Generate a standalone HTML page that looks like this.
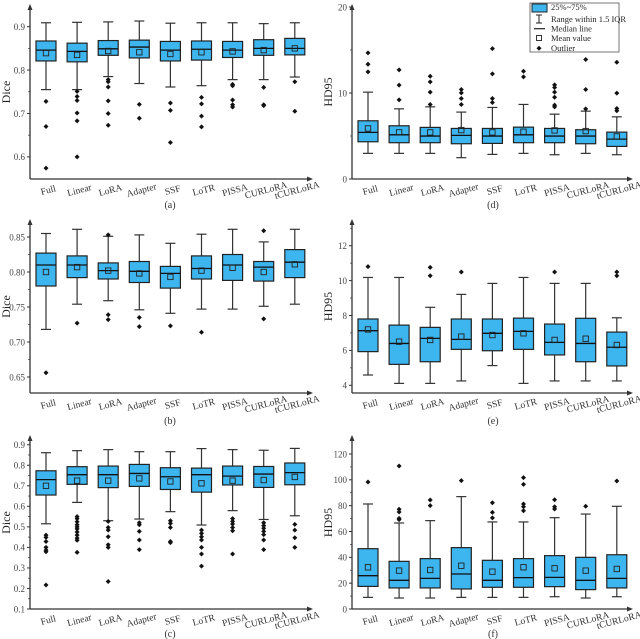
<!DOCTYPE html>
<html><head><meta charset="utf-8"><style>
html,body{margin:0;padding:0;background:#fff;overflow:hidden;}
svg{display:block;font-family:"Liberation Serif",serif;}
</style></head><body>
<svg id="chart" width="640" height="639" viewBox="0 0 640 639" xmlns="http://www.w3.org/2000/svg">
<g id="legend">
<rect x="530" y="3" width="89" height="49" fill="#fff" stroke="#555" stroke-width="0.8"/>
<rect x="532" y="4" width="15" height="8" fill="#3db5ee" stroke="#222" stroke-width="1"/>
<text x="551" y="10" font-size="8.5" fill="#222">25%~75%</text>
<g stroke="#222" stroke-width="1"><line x1="536" y1="15" x2="542" y2="15"/><line x1="539" y1="15" x2="539" y2="23"/><line x1="536" y1="23" x2="542" y2="23"/></g>
<text x="551" y="22" font-size="8.5" fill="#222">Range within 1.5 IQR</text>
<line x1="534" y1="28.7" x2="545" y2="28.7" stroke="#222" stroke-width="1.2"/>
<text x="551" y="31.5" font-size="8.5" fill="#222">Median line</text>
<rect x="536.5" y="35.5" width="5" height="5" fill="none" stroke="#222" stroke-width="0.9"/>
<text x="551" y="41" font-size="8.5" fill="#222">Mean value</text>
<path d="M539,45.8 L541.5,48.3 L539,50.8 L536.5,48.3Z" fill="#111"/>
<text x="551" y="51" font-size="8.5" fill="#222">Outlier</text>
</g>
</svg>
<script>
const categories = ["Full","Linear","LoRA","Adapter","SSF","LoTR","PISSA","CURLoRA","tCURLoRA"];

// (a) Dice
const aHigh = [0.909,0.910,0.911,0.913,0.908,0.909,0.909,0.907,0.909];
const aQ3 = [0.867,0.862,0.868,0.869,0.866,0.867,0.866,0.870,0.873];
const aMed = [0.846,0.843,0.849,0.853,0.846,0.848,0.846,0.850,0.850];
const aQ1 = [0.821,0.819,0.834,0.828,0.821,0.823,0.829,0.834,0.835];
const aLow = [0.755,0.755,0.785,0.769,0.761,0.764,0.778,0.778,0.784];
const aMean = [0.839,0.835,0.844,0.841,0.837,0.841,0.843,0.846,0.850];
const aOut = [[0.728,0.670,0.574],[0.751,0.739,0.730,0.701,0.683,0.600],[0.778,0.773,0.761,0.729,0.700,0.673],[0.721,0.689],[0.724,0.707,0.633],[0.737,0.722,0.694,0.669],[0.767,0.764,0.731,0.720,0.715],[0.760,0.720,0.718],[0.773,0.705]];

// (b) Dice
const bHigh = [0.855,0.861,0.851,0.853,0.841,0.854,0.861,0.843,0.861];
const bQ3 = [0.827,0.823,0.813,0.815,0.808,0.823,0.825,0.815,0.832];
const bMed = [0.810,0.810,0.802,0.801,0.798,0.805,0.810,0.807,0.814];
const bQ1 = [0.780,0.792,0.790,0.785,0.777,0.790,0.788,0.787,0.792];
const bLow = [0.718,0.754,0.759,0.746,0.741,0.747,0.747,0.751,0.754];
const bMean = [0.800,0.807,0.802,0.798,0.793,0.802,0.806,0.800,0.811];
const bOut = [[0.656],[0.727],[0.853,0.739,0.732],[0.735,0.722],[0.723],[0.714],[],[0.859,0.733],[]];

// (c) Dice
const cHigh = [0.861,0.871,0.876,0.866,0.866,0.881,0.876,0.873,0.882];
const cQ3 = [0.773,0.793,0.796,0.804,0.788,0.786,0.796,0.794,0.811];
const cMed = [0.730,0.754,0.754,0.760,0.744,0.754,0.747,0.757,0.764];
const cQ1 = [0.655,0.707,0.691,0.697,0.682,0.669,0.704,0.692,0.705];
const cLow = [0.515,0.619,0.530,0.538,0.574,0.509,0.579,0.536,0.554];
const cMean = [0.700,0.725,0.725,0.736,0.721,0.712,0.725,0.728,0.743];
const cOut = [[0.46,0.449,0.429,0.40,0.387,0.379,0.217],[0.55,0.54,0.525,0.51,0.50,0.49,0.475,0.46,0.445,0.435,0.376],[0.527,0.497,0.484,0.452,0.413,0.40,0.234],[0.52,0.51,0.478,0.436,0.389],[0.53,0.517,0.497,0.429,0.423],[0.484,0.468,0.452,0.436,0.40,0.368,0.309],[0.54,0.527,0.514,0.497,0.481,0.368],[0.52,0.506,0.493,0.478,0.462,0.436,0.389],[0.512,0.484,0.447,0.40]];

// (d) HD95
const dHigh = [10.1,8.16,8.39,7.78,8.32,8.67,7.54,7.89,7.23];
const dQ3 = [6.77,6.19,6.0,5.88,5.88,6.03,5.88,5.73,5.45];
const dMed = [5.42,5.14,4.99,5.07,4.99,5.14,4.99,4.99,4.64];
const dQ1 = [4.33,4.22,4.22,4.1,4.14,4.22,4.22,4.1,3.79];
const dLow = [2.98,2.98,2.98,2.48,2.86,2.98,2.82,2.98,2.82];
const dMean = [5.88,5.42,5.42,5.69,5.42,5.49,5.65,5.57,4.95];
const dOut = [[14.66,13.35,12.46],[12.69,10.91,9.2],[11.95,11.3,10.1,8.67],[10.4,10.02,9.36,8.67],[15.16,12.22,9.36,8.9],[12.53,11.88],[10.95,10.64,10.1,9.5,8.59,8.39],[13.89,10.4,8.16],[13.58,9.98,8.2,7.93]];

// (e) HD95
const eHigh = [10.18,10.18,8.47,9.21,9.84,10.18,9.84,9.84,7.87];
const eQ3 = [7.8,7.45,7.32,7.8,7.8,7.85,7.51,7.84,7.05];
const eMed = [7.13,6.4,6.69,6.63,6.98,7.09,6.46,6.4,6.18];
const eQ1 = [5.93,5.2,5.35,6.06,5.98,6.06,5.74,5.35,5.11];
const eLow = [4.59,4.11,4.11,4.25,5.13,4.11,4.25,4.25,4.25];
const eMean = [7.2,6.5,6.6,6.79,6.88,6.98,6.6,6.67,6.31];
const eOut = [[10.8],[],[10.76,10.28],[10.49],[],[],[10.49],[],[10.49,10.28]];

// (f) HD95
const fHigh = [81.3,66.6,68.4,87,67.4,67.4,70.7,73.5,79.5];
const fQ3 = [46.7,36.9,39,47.5,37.7,39,41.3,40,42];
const fMed = [25.8,22.2,23.7,27.1,22.2,24.3,24.5,22.2,23.7];
const fQ1 = [17.5,16.3,16.3,15.5,16.8,16.8,17.3,15,16.3];
const fLow = [9.0,8.5,8.5,9.0,9.0,9.0,9.5,8.5,9.5];
const fMean = [32.3,29.7,30.2,33.5,28.9,32.3,31.5,29.7,31];
const fOut = [[98.3],[110.7,77.2,75.1,70.2,69.2],[84.4,80],[99.4],[82.3,74.8,70.5],[101.7,96.5,81.3,79.2,76.1],[84.6,79.2,77.4],[79.5],[99.1]];

const aTicks = [0.6,0.7,0.8,0.9];
const bTicks = [0.65,0.70,0.75,0.80,0.85];
const cTicks = [0.1,0.2,0.3,0.4,0.5,0.6,0.7,0.8,0.9];
const dTicks = [0,10,20];
const eTicks = [4,6,8,10,12];
const fTicks = [0,20,40,60,80,100,120];

const NS = "http://www.w3.org/2000/svg";
const svg = document.getElementById("chart");
const legend = document.getElementById("legend");
function mk(tag, attrs, parent){ const e=document.createElementNS(NS,tag); for(const k in attrs) e.setAttribute(k,attrs[k]); if(parent) parent.appendChild(e); else svg.insertBefore(e, legend); return e; }

const panels = [
 {id:"a", title:"Dice", ax:30, xEnd:312, top:5, bottom:179, vTop:0.9, yTop:26.67, scale:434, ticks:aTicks, dec:1, hi:aHigh,q3:aQ3,md:aMed,q1:aQ1,lo:aLow,mn:aMean,out:aOut, lx:170, ly:208},
 {id:"b", title:"Dice", ax:30, xEnd:312, top:220, bottom:393, vTop:0.85, yTop:237, scale:700, ticks:bTicks, dec:2, hi:bHigh,q3:bQ3,md:bMed,q1:bQ1,lo:bLow,mn:bMean,out:bOut, lx:170, ly:424},
 {id:"c", title:"Dice", ax:30, xEnd:312, top:436, bottom:609, vTop:0.9, yTop:444.7, scale:205.4, ticks:cTicks, dec:1, hi:cHigh,q3:cQ3,md:cMed,q1:cQ1,lo:cLow,mn:cMean,out:cOut, lx:170, ly:637},
 {id:"d", title:"HD95", ax:352, xEnd:632, top:5, bottom:179, vTop:0, yTop:179, scale:8.6, ticks:dTicks, dec:0, hi:dHigh,q3:dQ3,md:dMed,q1:dQ1,lo:dLow,mn:dMean,out:dOut, lx:493, ly:208},
 {id:"e", title:"HD95", ax:352, xEnd:632, top:220, bottom:393, vTop:12, yTop:245.7, scale:17.45, ticks:eTicks, dec:0, hi:eHigh,q3:eQ3,md:eMed,q1:eQ1,lo:eLow,mn:eMean,out:eOut, lx:493, ly:424},
 {id:"f", title:"HD95", ax:352, xEnd:632, top:436, bottom:609, vTop:0, yTop:609, scale:1.2917, ticks:fTicks, dec:0, hi:fHigh,q3:fQ3,md:fMed,q1:fQ1,lo:fLow,mn:fMean,out:fOut, lx:493, ly:637}
];

panels.forEach(p=>{
  const g = mk("g",{});
  
  
  const y = v => p.yTop + (p.vTop - v)*p.scale;
  const x = i => p.ax + 16 + i*31.1;
  const col = "#333";
  const ya = mk("line",{x1:p.ax,y1:p.top+2,x2:p.ax,y2:p.bottom,stroke:col,"stroke-width":1.3},g);
  
  
  const yarr = mk("path",{d:`M${p.ax-2.5},${p.top+5} L${p.ax},${p.top-1} L${p.ax+2.5},${p.top+5}Z`,fill:col},g);
  
  
  const xa = mk("line",{x1:p.ax,y1:p.bottom,x2:p.xEnd-2,y2:p.bottom,stroke:col,"stroke-width":1.3},g);
  
  
  const xarr = mk("path",{d:`M${p.xEnd-5},${p.bottom-2.5} L${p.xEnd+1},${p.bottom} L${p.xEnd-5},${p.bottom+2.5}Z`,fill:col},g);
  
  
  const step = p.ticks[1]-p.ticks[0];
  p.ticks.forEach((t,k)=>{
    const ty = y(t);
    mk("line",{x1:p.ax-3,y1:ty,x2:p.ax,y2:ty,stroke:col,"stroke-width":1},g);
    const minor = y(t+step/2);
    if(minor>p.top+6 && minor<p.bottom) mk("line",{x1:p.ax-1.8,y1:minor,x2:p.ax,y2:minor,stroke:col,"stroke-width":0.8},g);
    const tl = mk("text",{x:p.ax-5,y:ty+3.3,"text-anchor":"end","font-size":9,fill:"#444"},g);
    
    
    tl.textContent = t.toFixed(p.dec);
  });
  const midY = (p.top+p.bottom)/2;
  const yt = mk("text",{x:0,y:0,"text-anchor":"middle","font-size":12,fill:"#222",transform:`translate(${p.ax-20},${midY}) rotate(-90)`},g);
  
  
  yt.textContent = p.title;
  categories.forEach((c,i)=>{
    const cx = x(i);
    const bg = mk("g",{},g);
    
    
    mk("line",{x1:cx,y1:y(p.hi[i]),x2:cx,y2:y(p.q3[i]),stroke:col,"stroke-width":1.2},bg);
    mk("line",{x1:cx,y1:y(p.q1[i]),x2:cx,y2:y(p.lo[i]),stroke:col,"stroke-width":1.2},bg);
    mk("line",{x1:cx-5,y1:y(p.hi[i]),x2:cx+5,y2:y(p.hi[i]),stroke:col,"stroke-width":1.2},bg);
    mk("line",{x1:cx-5,y1:y(p.lo[i]),x2:cx+5,y2:y(p.lo[i]),stroke:col,"stroke-width":1.2},bg);
    mk("rect",{x:cx-10,y:y(p.q3[i]),width:20,height:y(p.q1[i])-y(p.q3[i]),fill:"#3db5ee",stroke:"#222","stroke-width":1.2},bg);
    mk("line",{x1:cx-10,y1:y(p.md[i]),x2:cx+10,y2:y(p.md[i]),stroke:"#111","stroke-width":1.3},bg);
    mk("rect",{x:cx-2.7,y:y(p.mn[i])-2.7,width:5.4,height:5.4,fill:"none",stroke:"#222","stroke-width":0.9},bg);
    p.out[i].forEach(v=>{
      const oy = y(v);
      const o = mk("path",{d:`M${cx},${oy-2.5} L${cx+2.5},${oy} L${cx},${oy+2.5} L${cx-2.5},${oy}Z`,fill:"#111"},bg);
      
      
    });
    const xl = mk("text",{x:0,y:0,"text-anchor":"middle","font-size":9.5,fill:"#333",transform:`translate(${cx+3},${p.bottom+14}) rotate(-15)`},g);
    
    
    xl.textContent = c;
  });
  const pl = mk("text",{x:p.lx,y:p.ly,"text-anchor":"middle","font-size":10,fill:"#333"},g);
  
  
  pl.textContent = "("+p.id+")";
});
</script>
</body></html>
